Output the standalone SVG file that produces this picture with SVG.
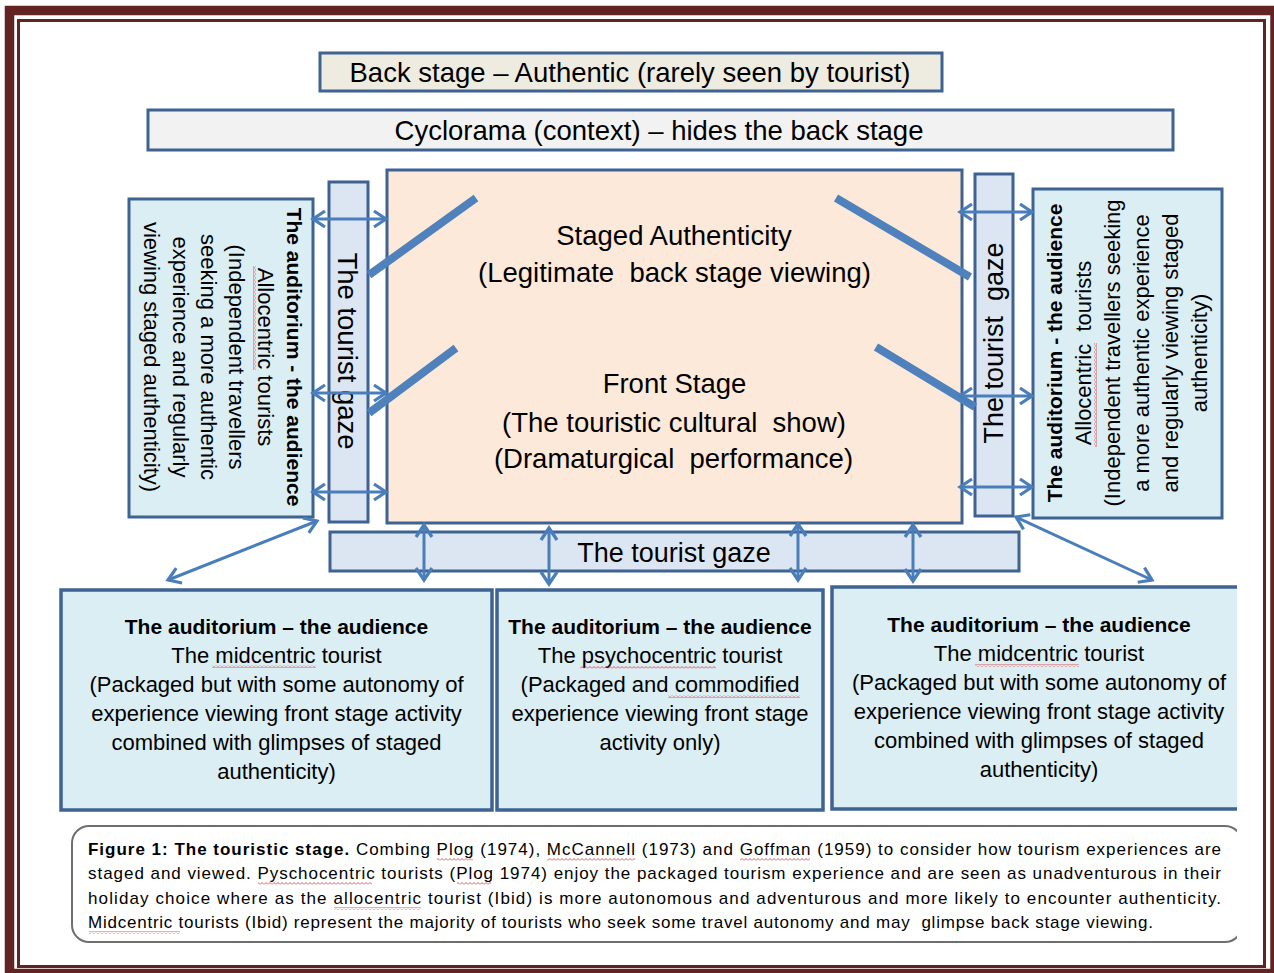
<svg xmlns="http://www.w3.org/2000/svg" width="1274" height="973" viewBox="0 0 1274 973">
<style>
.box{stroke:#3e6393;stroke-width:3}
.bb{stroke:#3e6393;stroke-width:3.5}
.t{font-family:"Liberation Sans",Arial,sans-serif;fill:#000}
.b{font-weight:bold}
.arr{stroke:#4a7ebb;stroke-width:3;fill:none;marker-start:url(#ah);marker-end:url(#ah)}
.wing{stroke:#4f81bd;stroke-width:8;fill:none}
.sq{fill:url(#sq)}
.sqv{fill:url(#sqv)}
</style>
<defs>
<marker id="ah" markerUnits="userSpaceOnUse" markerWidth="24" markerHeight="24" viewBox="-14 -12 18 24" refX="0" refY="0" orient="auto-start-reverse" overflow="visible">
<path d="M-12,-8 L0,0 L-12,8" fill="none" stroke="#4a7ebb" stroke-width="3.2"/>
</marker>
<pattern id="sq" width="4" height="3" patternUnits="userSpaceOnUse">
<path d="M0,2.5 L2,0.5 L4,2.5" fill="none" stroke="#e03030" stroke-width="0.8"/>
</pattern>
<pattern id="sqv" width="3" height="4" patternUnits="userSpaceOnUse">
<path d="M2.5,0 L0.5,2 L2.5,4" fill="none" stroke="#e03030" stroke-width="0.8"/>
</pattern>
<clipPath id="clipR"><rect x="0" y="0" width="1237" height="973"/></clipPath>
</defs>
<rect width="1274" height="973" fill="#ffffff"/>
<g id="frame" fill="none">
<rect x="9.5" y="10.5" width="1265.5" height="963" stroke="#622423" stroke-width="9.5"/>
<rect x="18.5" y="20.5" width="1246" height="946" stroke="#622423" stroke-width="3"/>
</g>

<g id="back-stage">
<rect class="box" x="320" y="53" width="622" height="38" fill="#eeece1"/>
<text class="t" x="630" y="82" font-size="27.5" text-anchor="middle">Back stage – Authentic (rarely seen by tourist)</text>
</g>
<g id="cyclorama">
<rect class="box" x="148" y="110" width="1025" height="40" fill="#f2f2f2"/>
<text class="t" x="659" y="140" font-size="27.5" text-anchor="middle">Cyclorama (context) – hides the back stage</text>
</g>

<g id="stage">
<rect class="box" x="387" y="170" width="575" height="353" fill="#fde9d9"/>
<text class="t" font-size="27.5" text-anchor="middle" xml:space="preserve"><tspan x="674" y="245">Staged Authenticity</tspan><tspan x="674.5" y="282">(Legitimate  back stage viewing)</tspan><tspan x="674.5" y="393">Front Stage</tspan><tspan x="674" y="432">(The touristic cultural  show)</tspan><tspan x="673.5" y="468">(Dramaturgical  performance)</tspan></text>
</g>

<g id="gaze-left">
<rect class="box" x="329" y="182" width="39" height="340" fill="#dce6f2"/>
<text class="t" font-size="27.5" text-anchor="middle" transform="translate(338,351) rotate(90)">The tourist gaze</text>
</g>
<g id="gaze-right">
<rect class="box" x="975" y="174" width="38" height="342" fill="#dce6f2"/>
<text class="t" font-size="27" text-anchor="middle" xml:space="preserve" transform="translate(1003,343) rotate(-90)">The tourist  gaze</text>
</g>
<g id="gaze-bottom">
<rect class="box" x="330" y="532" width="689" height="39" fill="#dce6f2"/>
<text class="t" x="674" y="562" font-size="27" text-anchor="middle">The tourist gaze</text>
</g>

<g id="allocentric-left">
<rect class="box" x="129" y="199" width="184" height="318" fill="#dbeef4"/>
<g transform="translate(0,357) rotate(90)">
<text class="t b" x="0" y="-287" font-size="21" text-anchor="middle">The auditorium - the audience</text>
<text class="t" font-size="22" text-anchor="middle"><tspan x="0" y="-258">Allocentric tourists</tspan><tspan x="0" y="-229">(Independent travellers</tspan><tspan x="0" y="-201">seeking a more authentic</tspan><tspan x="0" y="-173">experience and regularly</tspan><tspan x="0" y="-144">viewing staged authenticity)</tspan></text>
</g>
<rect class="sqv" x="253" y="266" width="3" height="104"/>
</g>

<g id="allocentric-right">
<rect class="box" x="1033" y="189" width="189" height="329" fill="#dbeef4"/>
<g transform="translate(0,353) rotate(-90)">
<text class="t b" x="0" y="1062" font-size="21" text-anchor="middle">The auditorium - the audience</text>
<text class="t" font-size="22" text-anchor="middle" xml:space="preserve"><tspan x="0" y="1091">Allocentric  tourists</tspan><tspan x="0" y="1120">(Independent travellers seeking</tspan><tspan x="0" y="1149">a more authentic experience</tspan><tspan x="0" y="1178">and regularly viewing staged</tspan><tspan x="0" y="1207">authenticity)</tspan></text>
</g>
<rect class="sqv" x="1094" y="343" width="3" height="104"/>
</g>

<g id="midcentric-left">
<rect class="bb" x="61" y="590" width="431" height="220" fill="#dbeef4"/>
<text class="t b" x="276.5" y="634" font-size="21" text-anchor="middle">The auditorium – the audience</text>
<text class="t" font-size="22" text-anchor="middle"><tspan x="276.5" y="663">The midcentric tourist</tspan><tspan x="276.5" y="692">(Packaged but with some autonomy of</tspan><tspan x="276.5" y="721">experience viewing front stage activity</tspan><tspan x="276.5" y="750">combined with glimpses of staged</tspan><tspan x="276.5" y="779">authenticity)</tspan></text>
<rect class="sq" x="212" y="665" width="104" height="3"/>
</g>

<g id="psychocentric">
<rect class="bb" x="497" y="590" width="326" height="220" fill="#dbeef4"/>
<text class="t b" x="660" y="634" font-size="21" text-anchor="middle">The auditorium – the audience</text>
<text class="t" font-size="22" text-anchor="middle"><tspan x="660" y="663">The psychocentric tourist</tspan><tspan x="660" y="692">(Packaged and commodified</tspan><tspan x="660" y="721">experience viewing front stage</tspan><tspan x="660" y="750">activity only)</tspan></text>
<rect class="sq" x="580" y="666" width="136" height="3"/>
<rect class="sq" x="668" y="695" width="132" height="3"/>
</g>

<g id="midcentric-right">
<rect x="832" y="587" width="405" height="222" fill="#dbeef4"/>
<path class="bb" d="M1237,587 H832 V809 H1237" fill="none"/>
<text class="t b" x="1039" y="632" font-size="21" text-anchor="middle">The auditorium – the audience</text>
<text class="t" font-size="22" text-anchor="middle"><tspan x="1039" y="661">The midcentric tourist</tspan><tspan x="1039" y="690">(Packaged but with some autonomy of</tspan><tspan x="1039" y="719">experience viewing front stage activity</tspan><tspan x="1039" y="748">combined with glimpses of staged</tspan><tspan x="1039" y="777">authenticity)</tspan></text>
<rect class="sq" x="975" y="664" width="104" height="3"/>
</g>

<g id="caption">
<rect x="72" y="826" width="1170" height="116" rx="17" fill="#ffffff" stroke="#6f6f6f" stroke-width="2" clip-path="url(#clipR)"/>
<text class="t" x="88" y="855" font-size="17" textLength="1133" lengthAdjust="spacing"><tspan class="b">Figure 1: The touristic stage.</tspan> Combing Plog (1974), McCannell (1973) and Goffman (1959) to consider how tourism experiences are</text>
<text class="t" x="88" y="879" font-size="17" textLength="1133" lengthAdjust="spacing">staged and viewed. Pyschocentric tourists (Plog 1974) enjoy the packaged tourism experience and are seen as unadventurous in their</text>
<text class="t" x="88" y="904" font-size="17" textLength="1133" lengthAdjust="spacing">holiday choice where as the allocentric tourist (Ibid) is more autonomous and adventurous and more likely to encounter authenticity.</text>
<text class="t" x="88" y="928" font-size="17" textLength="1065" lengthAdjust="spacing" xml:space="preserve">Midcentric tourists (Ibid) represent the majority of tourists who seek some travel autonomy and may  glimpse back stage viewing.</text>
<rect class="sq" x="437" y="858" width="36" height="3"/>
<rect class="sq" x="547" y="858" width="88" height="3"/>
<rect class="sq" x="740" y="858" width="70" height="3"/>
<rect class="sq" x="258" y="882" width="114" height="3"/>
<rect class="sq" x="457" y="882" width="34" height="3"/>
<rect class="sq" x="334" y="907" width="87" height="3"/>
<rect class="sq" x="89" y="931" width="91" height="3"/>
</g>

<g id="wings">
<line class="wing" x1="369" y1="275" x2="476" y2="198"/>
<line class="wing" x1="369" y1="413" x2="456" y2="348"/>
<line class="wing" x1="836" y1="198" x2="970" y2="277"/>
<line class="wing" x1="876" y1="347" x2="975" y2="407"/>
</g>

<g id="connectors">
<line class="arr" x1="313" y1="219" x2="386" y2="219"/>
<line class="arr" x1="313" y1="393" x2="386" y2="393"/>
<line class="arr" x1="313" y1="492" x2="386" y2="492"/>
<line class="arr" x1="960" y1="212" x2="1032" y2="212"/>
<line class="arr" x1="960" y1="396" x2="1032" y2="396"/>
<line class="arr" x1="960" y1="487" x2="1032" y2="487"/>
<line class="arr" x1="424" y1="525" x2="424" y2="580"/>
<line class="arr" x1="549" y1="528" x2="549" y2="584"/>
<line class="arr" x1="798" y1="524" x2="798" y2="580"/>
<line class="arr" x1="913" y1="525" x2="913" y2="581"/>
<line class="arr" x1="317" y1="521" x2="168" y2="580"/>
<line class="arr" x1="1016" y1="517" x2="1152" y2="580"/>
</g>
</svg>
